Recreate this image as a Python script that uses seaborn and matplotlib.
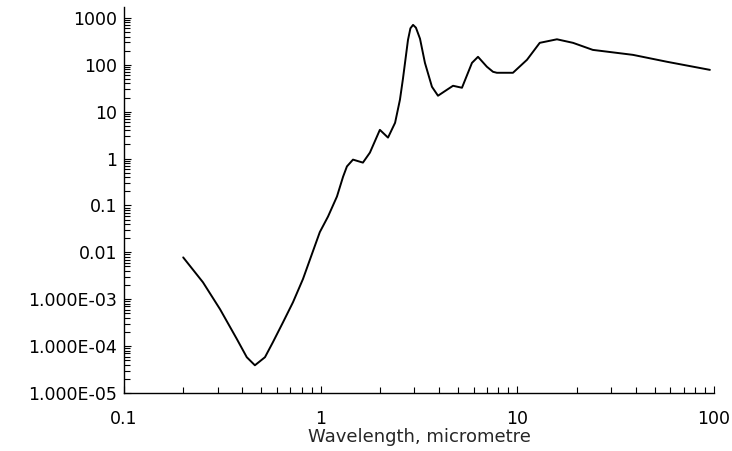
import numpy as np
import pandas as pd
import matplotlib
matplotlib.use("Agg")
import matplotlib.pyplot as plt
import seaborn as sns
from matplotlib.ticker import LogLocator, FixedLocator, FixedFormatter, NullFormatter

# values
wavelength = [0.200, 0.252, 0.308, 0.375, 0.421, 0.463, 0.521, 0.571, 0.643, 0.723,
              0.813, 0.883, 0.99, 1.09, 1.21, 1.30, 1.36, 1.46, 1.64, 1.78,
              2.00, 2.20, 2.39, 2.53, 2.62, 2.78, 2.86, 2.95, 3.05, 3.12,
              3.20, 3.39, 3.68, 3.95, 4.39, 4.71, 5.23, 5.88, 6.31, 7.00,
              7.52, 7.87, 9.50, 11.2, 13.0, 15.9, 19.2, 24.2, 38.7, 57.7,
              95.3]
value = [0.0078, 2.3e-3, 6.1e-4, 1.41e-4, 5.8e-5, 3.9e-5, 5.8e-5, 1.2e-4, 3.2e-4, 8.6e-4,
         2.7e-3, 7.1e-3, 0.027, 0.058, 0.155, 0.41, 0.68, 0.95, 0.82, 1.34,
         4.1, 2.8, 5.8, 18, 50, 340, 600, 710, 620, 480,
         360, 110, 34, 21.9, 29.4, 35.7, 32.4, 110, 148, 91,
         71, 67.6, 67.6, 128, 294, 350, 294, 208, 163, 116,
         78]

x_ticks = [0.1, 1, 10, 100]
x_tick_labels = ["0.1", "1", "10", "100"]
y_ticks = [1e-5, 1e-4, 1e-3, 1e-2, 1e-1, 1, 10, 100, 1000]
y_tick_labels = ["1.000E-05", "1.000E-04", "1.000E-03", "0.01", "0.1", "1", "10", "100", "1000"]

df = pd.DataFrame({"wavelength": wavelength, "value": value})

sns.set_style("ticks")
plt.rcParams['font.family'] = ['DejaVu Sans']

fig = plt.figure(figsize=(7.32, 4.51), dpi=100)
ax = fig.add_axes([0.1694, 0.1286, 0.806, 0.856])

sns.lineplot(data=df, x="wavelength", y="value", color="black", linewidth=1.4, ax=ax,
             sort=False)
ax.lines[0].set_solid_joinstyle("round")

ax.set_xscale("log")
ax.set_yscale("log")
ax.set_xlim(0.1, 100)
ax.set_ylim(1e-5, 1714)

ax.xaxis.set_major_locator(FixedLocator(x_ticks))
ax.xaxis.set_major_formatter(FixedFormatter(x_tick_labels))
ax.yaxis.set_major_locator(FixedLocator(y_ticks))
ax.yaxis.set_major_formatter(FixedFormatter(y_tick_labels))
ax.xaxis.set_minor_locator(LogLocator(base=10, subs=np.arange(2, 10)))
ax.yaxis.set_minor_locator(LogLocator(base=10, subs=np.arange(2, 10), numticks=20))
ax.xaxis.set_minor_formatter(NullFormatter())
ax.yaxis.set_minor_formatter(NullFormatter())

ax.tick_params(axis="both", which="both", direction="in", color="black", width=0.8)
ax.tick_params(axis="both", which="major", length=5, labelsize=12.5, labelcolor="black")
ax.tick_params(axis="x", which="major", pad=12)
ax.tick_params(axis="y", which="major", pad=5)
ax.tick_params(axis="both", which="minor", length=4)

for side in ["top", "right"]:
    ax.spines[side].set_visible(False)
for side in ["left", "bottom"]:
    ax.spines[side].set_color("black")
    ax.spines[side].set_linewidth(1.0)

ax.set_xlabel("Wavelength, micrometre", fontsize=13, labelpad=0)
ax.set_ylabel("")

fig.savefig("out.png", dpi=100, facecolor="white")
